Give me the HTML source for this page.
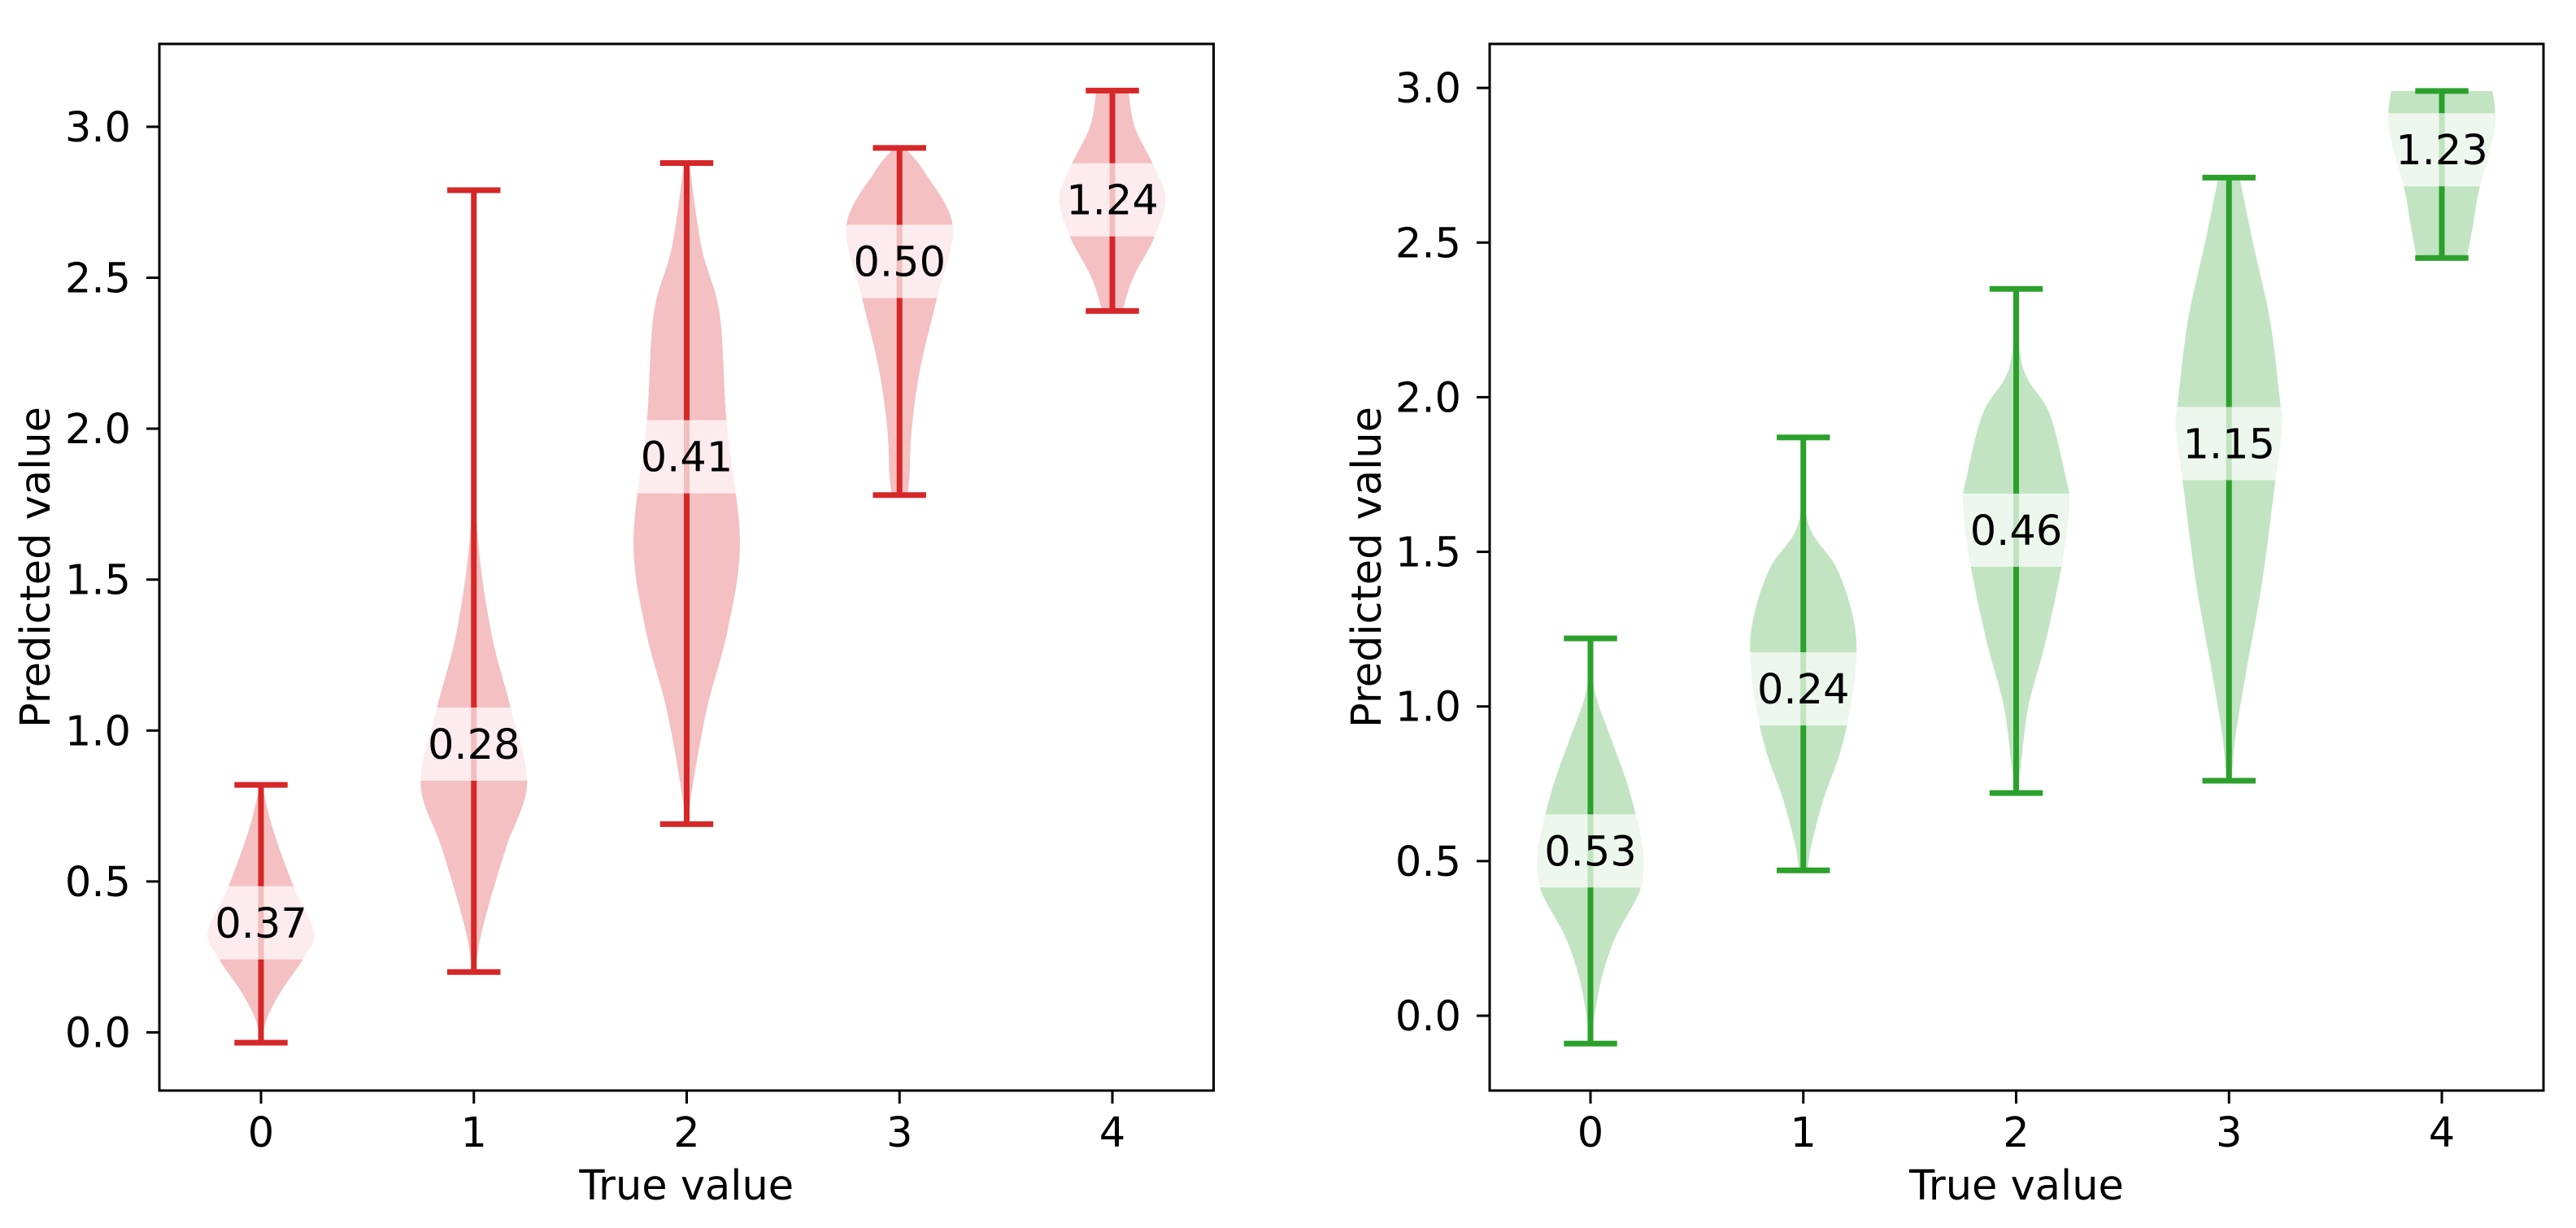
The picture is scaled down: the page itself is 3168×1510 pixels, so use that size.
<!DOCTYPE html>
<html><head><meta charset="utf-8">
<style>
html,body{margin:0;padding:0;background:#fff;}
svg{display:block;font-family:"DejaVu Sans","Liberation Sans",sans-serif;}
</style></head>
<body>
<svg id="chart" width="3168" height="1510" viewBox="0 0 3168 1510" xmlns="http://www.w3.org/2000/svg"></svg>
<script>
// ---------- data ----------
const categories = [0, 1, 2, 3, 4];
const yTicks = [0.0, 0.5, 1.0, 1.5, 2.0, 2.5, 3.0];
const yTickLabels = ["0.0", "0.5", "1.0", "1.5", "2.0", "2.5", "3.0"];

// left panel (red)
const redMin = [-0.034, 0.20, 0.69, 1.78, 2.39];
const redMax = [0.82, 2.79, 2.88, 2.93, 3.12];
const redLabels = ["0.37", "0.28", "0.41", "0.50", "1.24"];
const redLabelY = [0.363, 0.955, 1.907, 2.554, 2.758];
const redProfileY = [
  [0.82, 0.67, 0.48, 0.33, 0.24, 0.14, 0.05, -0.034],
  [2.79, 2.2, 1.7, 1.34, 1.07, 0.825, 0.62, 0.44, 0.31, 0.2],
  [2.88, 2.6, 2.38, 2.02, 1.63, 1.34, 1.08, 0.825, 0.69],
  [2.93, 2.85, 2.67, 2.43, 2.2, 2.0, 1.85, 1.78],
  [3.12, 3.0, 2.87, 2.76, 2.63, 2.5, 2.39]
];
const redProfileW = [
  [0.02, 0.23, 0.62, 1.0, 0.78, 0.39, 0.12, 0.0],
  [0.01, 0.02, 0.05, 0.31, 0.70, 1.0, 0.62, 0.31, 0.12, 0.02],
  [0.05, 0.28, 0.62, 0.75, 1.0, 0.78, 0.39, 0.12, 0.02],
  [0.1, 0.47, 1.0, 0.70, 0.39, 0.23, 0.19, 0.15],
  [0.3, 0.42, 0.78, 1.0, 0.78, 0.39, 0.19]
];

// right panel (green)
const greenMin = [-0.09, 0.47, 0.72, 0.76, 2.45];
const greenMax = [1.22, 1.87, 2.35, 2.71, 2.99];
const greenLabels = ["0.53", "0.24", "0.46", "1.15", "1.23"];
const greenLabelY = [0.533, 1.057, 1.57, 1.85, 2.80];
const greenProfileY = [
  [1.22, 1.05, 0.9, 0.75, 0.6, 0.5, 0.4, 0.25, 0.1, -0.09],
  [1.87, 1.6, 1.45, 1.3, 1.17, 1.0, 0.85, 0.7, 0.55, 0.47],
  [2.35, 2.1, 1.95, 1.75, 1.65, 1.45, 1.2, 1.0, 0.8, 0.72],
  [2.71, 2.5, 2.25, 2.0, 1.9, 1.7, 1.4, 1.1, 0.9, 0.76],
  [2.99, 2.93, 2.85, 2.67, 2.55, 2.45]
];
const greenProfileW = [
  [0.0, 0.08, 0.38, 0.69, 0.92, 1.0, 0.92, 0.46, 0.18, 0.0],
  [0.0, 0.08, 0.62, 0.92, 1.0, 0.89, 0.69, 0.38, 0.15, 0.08],
  [0.0, 0.12, 0.62, 0.92, 1.0, 0.85, 0.54, 0.23, 0.08, 0.0],
  [0.2, 0.45, 0.77, 0.95, 1.0, 0.85, 0.62, 0.31, 0.12, 0.05],
  [0.95, 1.0, 0.98, 0.7, 0.58, 0.47]
];

// ---------- drawing ----------
const NS = "http://www.w3.org/2000/svg";
const svg = document.getElementById("chart");
function mk(tag, attrs, parent) {
  const e = document.createElementNS(NS, tag);
  for (const k in attrs) e.setAttribute(k, attrs[k]);
  (parent || svg).appendChild(e);
  return e;
}

function smoothSeg(pts) {
  let d = "";
  for (let i = 0; i < pts.length - 1; i++) {
    const p0 = pts[Math.max(0, i - 1)], p1 = pts[i], p2 = pts[i + 1], p3 = pts[Math.min(pts.length - 1, i + 2)];
    const c1x = p1[0] + (p2[0] - p0[0]) / 6, c1y = p1[1] + (p2[1] - p0[1]) / 6;
    const c2x = p2[0] - (p3[0] - p1[0]) / 6, c2y = p2[1] - (p3[1] - p1[1]) / 6;
    d += " C" + c1x + "," + c1y + " " + c2x + "," + c2y + " " + p2[0] + "," + p2[1];
  }
  return d;
}

function panel(cfg) {
  const g = mk("g", {});
  
  
  const xs = v => cfg.x0 + v * cfg.dx;
  const ys = v => cfg.y0 - v * cfg.ky;
  const maxHalf = 0.25 * cfg.dx;
  const capHalf = 0.125 * cfg.dx;
  const LW = 7;

  categories.forEach((c, i) => {
    const cx = xs(c);
    const right = cfg.py[i].map((v, j) => [cx + cfg.pw[i][j] * maxHalf, ys(v)]);
    const left = cfg.py[i].map((v, j) => [cx - cfg.pw[i][j] * maxHalf, ys(v)]).reverse();
    const d = "M" + right[0][0] + "," + right[0][1] + smoothSeg(right) +
              " L" + left[0][0] + "," + left[0][1] + smoothSeg(left) + " Z";
    const body = mk("path", { d: d, fill: cfg.fill, stroke: "none" }, g);
    
    
  });
  categories.forEach((c, i) => {
    const cx = xs(c);
    const ln = mk("line", { x1: cx, x2: cx, y1: ys(cfg.max[i]), y2: ys(cfg.min[i]), stroke: cfg.line, "stroke-width": LW }, g);
    
    
    [cfg.max[i], cfg.min[i]].forEach((v, k) => {
      const cap = mk("line", { x1: cx - capHalf, x2: cx + capHalf, y1: ys(v), y2: ys(v), stroke: cfg.line, "stroke-width": LW }, g);
      
      
    });
  });
  categories.forEach((c, i) => {
    const cx = xs(c), cy = ys(cfg.labelY[i]);
    const band = mk("rect", { x: cx - 65, y: cy - 45, width: 130, height: 90, fill: "#fff", "fill-opacity": 0.7 }, g);
    
    
    const t = mk("text", { x: cx, y: cy + 18, "text-anchor": "middle", "font-size": 51, fill: "#000" }, g);
    t.textContent = cfg.labels[i];
    
    
    const w = t.getComputedTextLength();
    band.setAttribute("x", cx - w / 2 - 16);
    band.setAttribute("width", w + 32);
  });
  const fr = mk("rect", { x: cfg.left, y: cfg.top, width: cfg.right - cfg.left, height: cfg.bottom - cfg.top, fill: "none", stroke: "#000", "stroke-width": 3 }, g);
  
  
  yTicks.forEach((v, i) => {
    const y = ys(v);
    const tk = mk("line", { x1: cfg.left - 16, x2: cfg.left, y1: y, y2: y, stroke: "#000", "stroke-width": 3 }, g);
    
    
    const tl = mk("text", { x: cfg.left - 35, y: y + 18, "text-anchor": "end", "font-size": 51 }, g);
    tl.textContent = yTickLabels[i];
    
    
  });
  categories.forEach(c => {
    const x = xs(c);
    const tk = mk("line", { x1: x, x2: x, y1: cfg.bottom, y2: cfg.bottom + 16, stroke: "#000", "stroke-width": 3 }, g);
    
    
    const tl = mk("text", { x: x, y: 1410, "text-anchor": "middle", "font-size": 51 }, g);
    tl.textContent = String(c);
    
    
  });
  const xt = mk("text", { x: (cfg.left + cfg.right) / 2, y: 1475, "text-anchor": "middle", "font-size": 51 }, g);
  xt.textContent = "True value";
  
  
  const cyT = (cfg.top + cfg.bottom) / 2;
  const yt = mk("text", { x: cfg.ylabX, y: cyT, "text-anchor": "middle", "font-size": 51, transform: "rotate(-90 " + cfg.ylabX + " " + cyT + ")" }, g);
  yt.textContent = "Predicted value";
  
  
}

panel({ name: "left-panel-red", x0: 321, dx: 261.75, y0: 1269.5, ky: 371.2,
  left: 196, right: 1492.5, top: 54, bottom: 1341, ylabX: 61,
  fill: "#f4c0c1", line: "#d62728", min: redMin, max: redMax,
  labels: redLabels, labelY: redLabelY, py: redProfileY, pw: redProfileW });
panel({ name: "right-panel-green", x0: 1956, dx: 261.75, y0: 1249, ky: 380.3,
  left: 1832, right: 3128, top: 54, bottom: 1341, ylabX: 1698,
  fill: "#c2e4c2", line: "#2ca02c", min: greenMin, max: greenMax,
  labels: greenLabels, labelY: greenLabelY, py: greenProfileY, pw: greenProfileW });
</script>
</body></html>
